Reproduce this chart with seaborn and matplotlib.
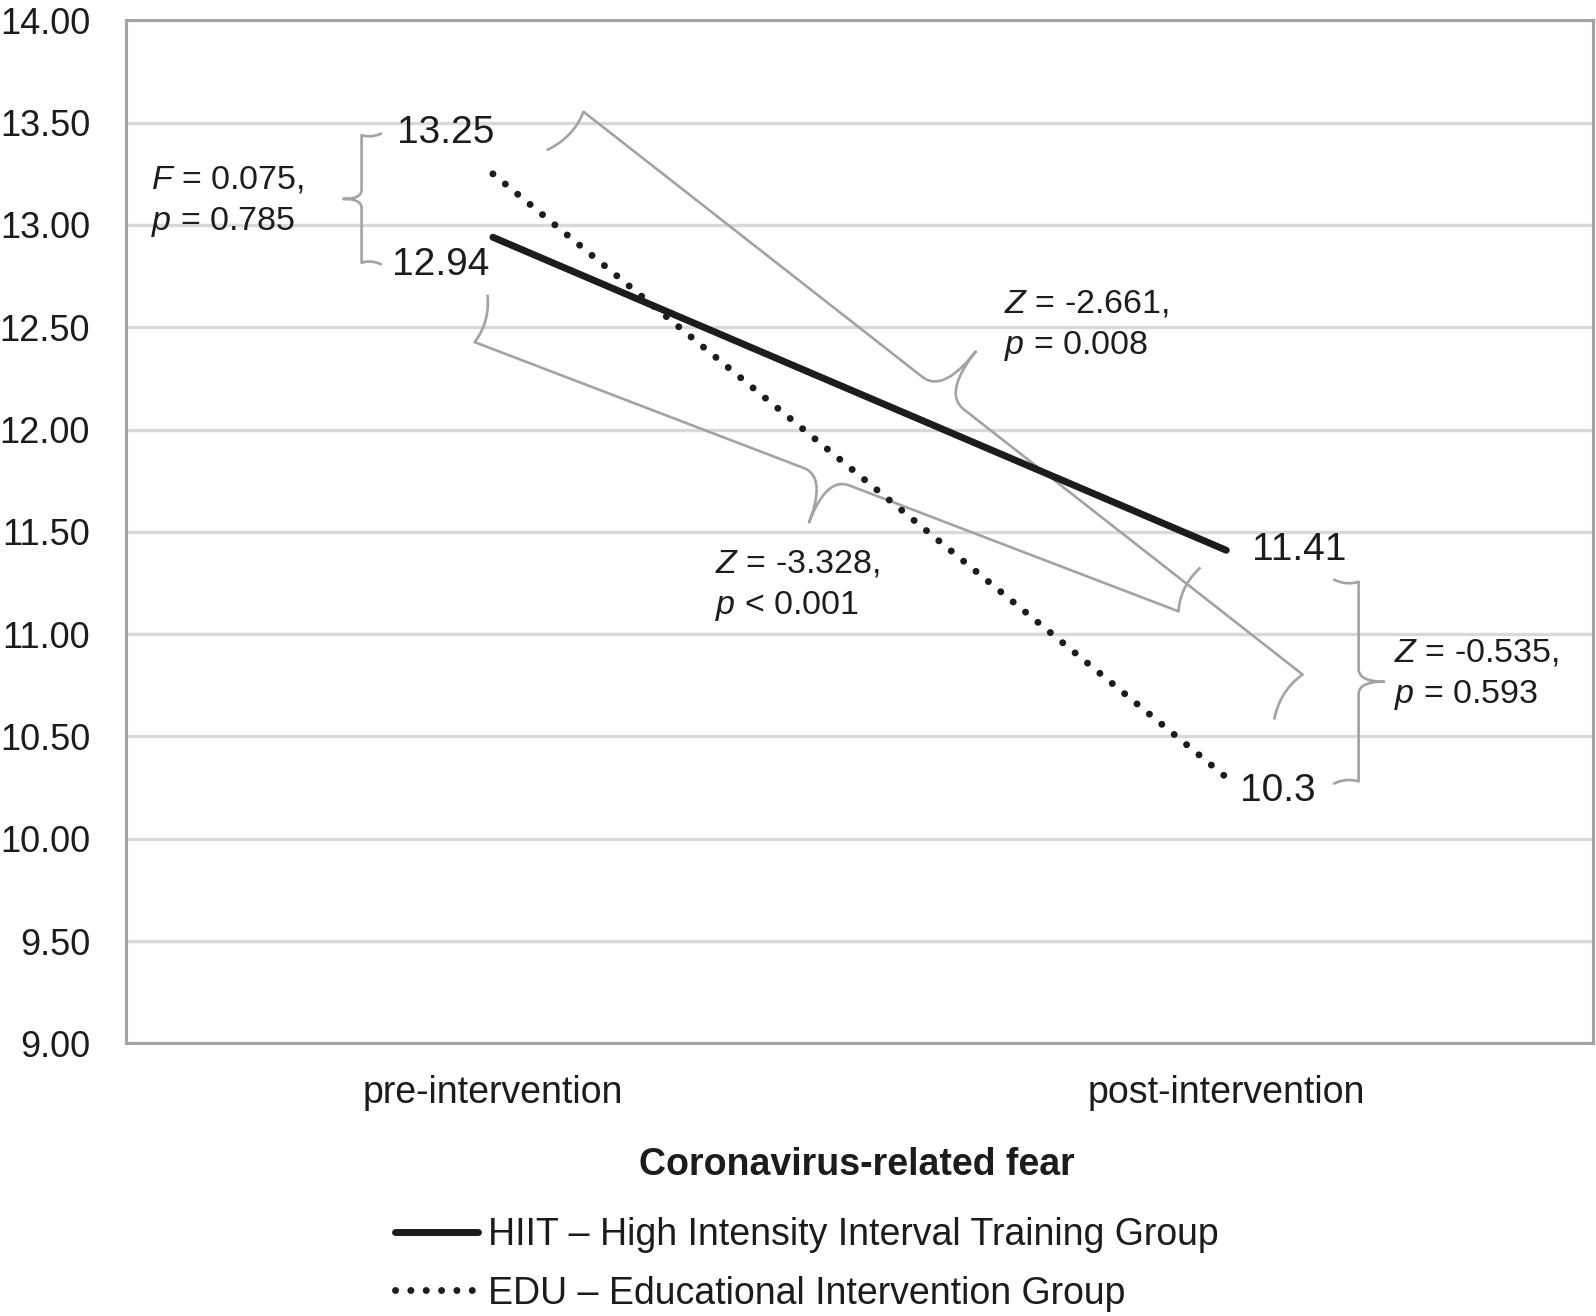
import numpy as np
import pandas as pd
import seaborn as sns
import matplotlib.pyplot as plt
from matplotlib.lines import Line2D

# data
phases = ["pre-intervention", "post-intervention"]
hiit_means = [12.94, 11.41]
edu_means = [13.25, 10.3]
hiit_text = ["12.94", "11.41"]
edu_text = ["13.25", "10.3"]
group_names = ["HIIT \u2013 High Intensity Interval Training Group",
               "EDU \u2013 Educational Intervention Group"]
y_ticks = [9.0, 9.5, 10.0, 10.5, 11.0, 11.5, 12.0, 12.5, 13.0, 13.5, 14.0]
y_tick_labels = ["9.00", "9.50", "10.00", "10.50", "11.00", "11.50",
                 "12.00", "12.50", "13.00", "13.50", "14.00"]
stat_text = [r"$\it{F}$ = 0.075," + "\n" + r"$\it{p}$ = 0.785",
             r"$\it{Z}$ = -2.661," + "\n" + r"$\it{p}$ = 0.008",
             r"$\it{Z}$ = -3.328," + "\n" + r"$\it{p}$ < 0.001",
             r"$\it{Z}$ = -0.535," + "\n" + r"$\it{p}$ = 0.593"]

sns.set_theme(style="white")
plt.rcParams["font.family"] = ["Liberation Sans", "DejaVu Sans"]
plt.rcParams["mathtext.fontset"] = "custom"
plt.rcParams["mathtext.rm"] = "Liberation Sans"
plt.rcParams["mathtext.it"] = "Liberation Sans:italic"

INK = "#1c1c1c"
GREY = "#a3a3a3"
S = 1596 / 1568  # shrunk-image px -> real px

W, H = 1596, 1316
fig = plt.figure(figsize=(W / 100, H / 100), dpi=100)
ax_l, ax_r, ax_t, ax_b = 126.2, 1593.0, 20.4, 1043.3
ax = fig.add_axes([ax_l / W, 1 - ax_b / H, (ax_r - ax_l) / W, (ax_b - ax_t) / H])

df = pd.DataFrame({
    "phase": phases * 2,
    "score": hiit_means + edu_means,
    "group": [group_names[0]] * 2 + [group_names[1]] * 2,
})

sns.lineplot(data=df[df["group"] == group_names[0]], x="phase", y="score",
             color=INK, lw=5, errorbar=None, ax=ax, legend=False,
             solid_capstyle="round")
sns.lineplot(data=df[df["group"] == group_names[1]], x="phase", y="score",
             color=INK, lw=5, errorbar=None, ax=ax, legend=False,
             linestyle=(0, (0.01, 2.3)), dash_capstyle="round")

ax.set_xlim(-0.5, 1.5)
ax.set_ylim(9, 14)
ax.set_yticks(y_ticks)
ax.set_yticklabels(y_tick_labels)
ax.set_xlabel("")
ax.set_ylabel("")
ax.yaxis.grid(True, color="#d9d9d9", lw=2.4)
ax.xaxis.grid(False)
ax.set_axisbelow(True)
for sp in ax.spines.values():
    sp.set_visible(True)
    sp.set_color(GREY)
    sp.set_linewidth(2.2)
ax.tick_params(axis="y", length=0, pad=26, labelsize=26, labelcolor=INK)
ax.tick_params(axis="x", length=0, pad=23, labelsize=27, labelcolor=INK)

# value labels next to the line ends (offsets in shrunk px, y down)
for i, (v, t) in enumerate(zip(edu_means, edu_text)):
    off, ha = [((1, -40), "right"), ((13, 13), "left")][i]
    ax.annotate(t, xy=(i, v), xytext=(off[0] * S, -off[1] * S),
                textcoords="offset pixels", ha=ha, va="center",
                fontsize=28, color=INK)
for i, (v, t) in enumerate(zip(hiit_means, hiit_text)):
    off, ha = [((-3, 27), "right"), ((25, 0), "left")][i]
    ax.annotate(t, xy=(i, v), xytext=(off[0] * S, -off[1] * S),
                textcoords="offset pixels", ha=ha, va="center",
                fontsize=28, color=INK)


def disp(x, y, dx, dy):
    p = ax.transData.transform((x, y))
    return np.array([p[0] + dx * S, p[1] - dy * S])


def quad(a, c, b, n=20):
    t = np.linspace(0, 1, n)[:, None]
    return (1 - t) ** 2 * a + 2 * (1 - t) * t * c + t ** 2 * b


def brace(p0, p1, side, hook, tip):
    hook *= S
    tip *= S
    d = p1 - p0
    L = np.hypot(*d)
    u = d / L
    nrm = side * np.array([-u[1], u[0]])
    m = L / 2
    a = 0.5 * tip
    loc = lambda s, v: np.array([s, v])
    pts = [
        quad(loc(-0.1 * hook, -hook), loc(0.15 * hook, -0.5 * hook), loc(0, 0)),
        np.array([loc(m - a, 0)]),
        quad(loc(m - a, 0), loc(m, 0), loc(m, tip)),
        quad(loc(m, tip), loc(m, 0), loc(m + a, 0)),
        quad(loc(L, 0), loc(L - 0.15 * hook, -0.5 * hook), loc(L + 0.1 * hook, -hook)),
    ]
    local = np.vstack(pts)
    xy = p0 + local[:, :1] * u + local[:, 1:] * nrm
    data = ax.transData.inverted().transform(xy)
    ax.plot(data[:, 0], data[:, 1], color=GREY, lw=1.9, solid_capstyle="butt",
            solid_joinstyle="round", zorder=1.5)
    tip_pt = p0 + m * u + tip * nrm
    return ax.transData.inverted().transform(tip_pt)


tips = [
    brace(disp(0, edu_means[0], -129, -38), disp(0, hiit_means[0], -129, 25), -1, 20, 18),
    brace(disp(0, edu_means[0], 89, -61), disp(1, edu_means[1], 75, -101), 1, 52, 52),
    brace(disp(0, hiit_means[0], -18, 103), disp(1, hiit_means[1], -47, 60), -1, 48, 48),
    brace(disp(1, hiit_means[1], 130, 31), disp(1, edu_means[1], 130, 4), 1, 25, 25),
]
stat_pos = [((-39, 3), "right"), ((28, -25), "left"), ((-92, 62), "left"), ((10, -7), "left")]
for tp, txt, (off, ha) in zip(tips, stat_text, stat_pos):
    ax.annotate(txt, xy=tp, xytext=(off[0] * S, -off[1] * S),
                textcoords="offset pixels", ha=ha, va="center", ma="left",
                fontsize=24.5, color=INK, linespacing=1.37)

fig.text(857 / W, 1 - 1165 / H, "Coronavirus-related fear", ha="center",
         va="center", fontsize=27, fontweight="bold", color=INK)

handles = [Line2D([0], [0], color=INK, lw=5),
           Line2D([0], [0], color=INK, lw=5, linestyle=(0, (0.01, 2.2)),
                  dash_capstyle="round")]
fig.legend(handles, group_names, loc="upper left",
           bbox_to_anchor=(395 / W, 1 - 1217 / H), frameon=False,
           fontsize=27, handlelength=2.2, handletextpad=0.28,
           labelspacing=0.6, borderpad=0, borderaxespad=0, labelcolor=INK)

fig.savefig("out.png", dpi=100, facecolor="white")
